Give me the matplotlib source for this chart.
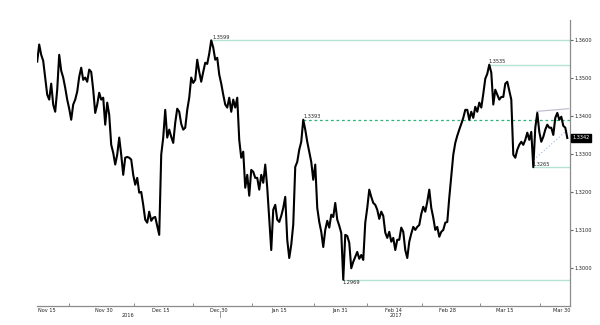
import matplotlib
matplotlib.use("Agg")
import matplotlib.pyplot as plt
import matplotlib.dates as mdates
import matplotlib.transforms as mtransforms
import numpy as np
import pandas as pd

# USD/CAD closes (evenly spaced in time)
close = [
    1.3543, 1.3588, 1.3561, 1.3545, 1.3500, 1.3456, 1.3443, 1.3485, 1.3430, 1.3411,
    1.3469, 1.3561, 1.3519, 1.3501, 1.3474, 1.3443, 1.3419, 1.3390, 1.3430, 1.3443,
    1.3464, 1.3503, 1.3527, 1.3495, 1.3501, 1.3490, 1.3522, 1.3516, 1.3469, 1.3408,
    1.3430, 1.3461, 1.3443, 1.3448, 1.3377, 1.3435, 1.3403, 1.3324, 1.3303, 1.3272,
    1.3298, 1.3343, 1.3298, 1.3245, 1.3290, 1.3292, 1.3290, 1.3285, 1.3245, 1.3219,
    1.3237, 1.3198, 1.3200, 1.3166, 1.3127, 1.3119, 1.3148, 1.3124, 1.3132, 1.3134,
    1.3111, 1.3087, 1.3298, 1.3343, 1.3416, 1.3343, 1.3364, 1.3345, 1.3329, 1.3382,
    1.3419, 1.3411, 1.3379, 1.3364, 1.3369, 1.3416, 1.3448, 1.3501, 1.3487, 1.3495,
    1.3548, 1.3516, 1.3490, 1.3516, 1.3540, 1.3537, 1.3564, 1.3599, 1.3580, 1.3548,
    1.3553, 1.3509, 1.3485, 1.3456, 1.3430, 1.3422, 1.3448, 1.3411, 1.3443, 1.3422,
    1.3448, 1.3337, 1.3290, 1.3306, 1.3211, 1.3245, 1.3190, 1.3258, 1.3253, 1.3237,
    1.3237, 1.3206, 1.3245, 1.3224, 1.3272, 1.3211, 1.3127, 1.3047, 1.3153, 1.3166,
    1.3127, 1.3121, 1.3137, 1.3158, 1.3187, 1.3074, 1.3026, 1.3061, 1.3114, 1.3266,
    1.3279, 1.3311, 1.3332, 1.3390, 1.3364, 1.3332, 1.3306, 1.3279, 1.3232, 1.3272,
    1.3158, 1.3121, 1.3095, 1.3055, 1.3100, 1.3124, 1.3106, 1.3140, 1.3134, 1.3171,
    1.3127, 1.3111, 1.3092, 1.2969, 1.3087, 1.3084, 1.3066, 1.2999, 1.3016, 1.3029,
    1.3042, 1.3024, 1.3034, 1.3021, 1.3119, 1.3158, 1.3206, 1.3187, 1.3171, 1.3166,
    1.3153, 1.3129, 1.3148, 1.3137, 1.3093, 1.3079, 1.3095, 1.3069, 1.3079, 1.3047,
    1.3074, 1.3074, 1.3106, 1.3095, 1.3047, 1.3026, 1.3069, 1.3090, 1.3108, 1.3100,
    1.3108, 1.3113, 1.3142, 1.3161, 1.3148, 1.3174, 1.3206, 1.3158, 1.3132, 1.3100,
    1.3108, 1.3082, 1.3095, 1.3100, 1.3119, 1.3121, 1.3185, 1.3240, 1.3298, 1.3329,
    1.3348, 1.3364, 1.3379, 1.3395, 1.3416, 1.3416, 1.3390, 1.3411, 1.3395, 1.3424,
    1.3411, 1.3435, 1.3422, 1.3458, 1.3498, 1.3511, 1.3535, 1.3514, 1.3430, 1.3469,
    1.3456, 1.3443, 1.3450, 1.3450, 1.3485, 1.3490, 1.3466, 1.3443, 1.3298, 1.3290,
    1.3311, 1.3324, 1.3332, 1.3324, 1.3337, 1.3356, 1.3337, 1.3358, 1.3265, 1.3369,
    1.3408, 1.3358, 1.3332, 1.3345, 1.3364, 1.3377, 1.3369, 1.3369, 1.3350, 1.3395,
    1.3408, 1.3390, 1.3398, 1.3374, 1.3369, 1.3342,
]
first_date, last_date = "2016-11-12 11:30", "2017-03-31 11:30"

tick_dates = ["2016-11-15", "2016-11-30", "2016-12-15", "2016-12-30", "2017-01-15",
              "2017-01-31", "2017-02-14", "2017-02-28", "2017-03-15", "2017-03-30"]
tick_labels = ["Nov 15", "Nov 30", "Dec 15", "Dec 30", "Jan 15",
               "Jan 31", "Feb 14", "Feb 28", "Mar 15", "Mar 30"]
minor_dates = ["2016-11-20 21:00", "2016-12-07 21:00", "2016-12-23 09:00", "2017-01-07 21:00",
               "2017-01-24 00:00", "2017-02-07 00:00", "2017-02-21 12:00", "2017-03-08 16:00",
               "2017-03-24 10:00"]
years = ["2016", "2017"]
year_dates = ["2016-12-06 10:00", "2017-02-14 14:00"]
year_split = "2016-12-30 07:00"

level_values = [1.3599, 1.3535, 1.3390, 1.3265, 1.2969]
level_labels = ["1.3599", "1.3535", "1.3393", "1.3265", "1.2969"]
level_start = ["2016-12-28 09:00", "2017-03-10 22:00", "2017-01-21 05:00",
               "2017-03-22 09:00", "2017-01-31 12:00"]
level_dashed = [False, False, True, False, False]
level_below = [False, False, False, False, True]

upper_trend_dates = ["2017-03-23 10:00", "2017-03-31 20:00"]
upper_trend_values = [1.3412, 1.3419]
lower_trend_dates = ["2017-03-22 17:00", "2017-03-31 20:00"]
lower_trend_values = [1.3285, 1.3366]
last_price = 1.3342


def dn(s):
    return mdates.date2num(pd.Timestamp(s))


dates = pd.date_range(first_date, last_date, periods=len(close))

fig = plt.figure(figsize=(6, 3.25), dpi=100)
ax = fig.add_axes([0.062, 0.06, 0.888, 0.879])

x_left, x_right = dn("2016-11-12 11:30"), dn("2017-04-01 04:30")
ax.set_xlim(x_left, x_right)
ax.set_ylim(1.2901, 1.3653)

# level lines
fs = 3.6
for v, lab, s, dashed, below in zip(level_values, level_labels, level_start, level_dashed, level_below):
    if dashed:
        ax.hlines(v, dn(s), x_right, colors="#2db47c", linestyles=(0, (2.2, 2.2)), lw=0.9, zorder=1)
    else:
        ax.hlines(v, dn(s), x_right, colors="#b4e3d1", lw=1.0, zorder=1)
    ax.text(dn(s), v + (-0.0002 if below else 0.0001), lab, fontsize=fs, color="#222222",
            ha="left", va="top" if below else "bottom")

ax.plot([dn(d) for d in upper_trend_dates], upper_trend_values, color="#b9b9cc", lw=0.8)
ax.plot([dn(d) for d in lower_trend_dates], lower_trend_values, color="#9fb3e6", lw=0.8,
        linestyle=(0, (1, 2)))

ax.plot(mdates.date2num(dates), close, color="black", lw=1.5, zorder=3)

for side in ["top", "left"]:
    ax.spines[side].set_visible(False)
for side in ["bottom", "right"]:
    ax.spines[side].set_color("#8c8c8c")
    ax.spines[side].set_linewidth(0.9)

ax.yaxis.tick_right()
ax.set_yticks(np.arange(1.30, 1.3601, 0.01))
ax.yaxis.set_major_formatter(plt.FormatStrFormatter("%.4f"))
ax.tick_params(axis="y", length=2, width=0.8, color="#666666", labelsize=fs,
               labelcolor="#222222", pad=1)

ax.set_xticks([dn(d) for d in tick_dates])
ax.set_xticklabels(tick_labels)
ax.set_xticks([dn(d) for d in minor_dates], minor=True)
ax.tick_params(axis="x", which="major", length=0, labelsize=fs, labelcolor="#222222", pad=1.5)
ax.tick_params(axis="x", which="minor", direction="in", length=2, width=0.7, color="#8c8c8c")

trans = mtransforms.blended_transform_factory(ax.transData, ax.transAxes)
for y, d in zip(years, year_dates):
    ax.text(dn(d), -0.036, y, transform=trans, ha="center", va="center", fontsize=fs,
            color="#222222")
ax.plot([dn(year_split)] * 2, [-0.02, -0.04], transform=trans, clip_on=False,
        color="#8c8c8c", lw=0.6)

trans_r = mtransforms.blended_transform_factory(ax.transAxes, ax.transData)
ax.text(1.004, last_price, "%.4f" % last_price, transform=trans_r, color="white", fontsize=fs,
        ha="left", va="center",
        bbox=dict(boxstyle="square,pad=0.3", fc="black", ec="black"))

fig.savefig("out.png", dpi=100)
